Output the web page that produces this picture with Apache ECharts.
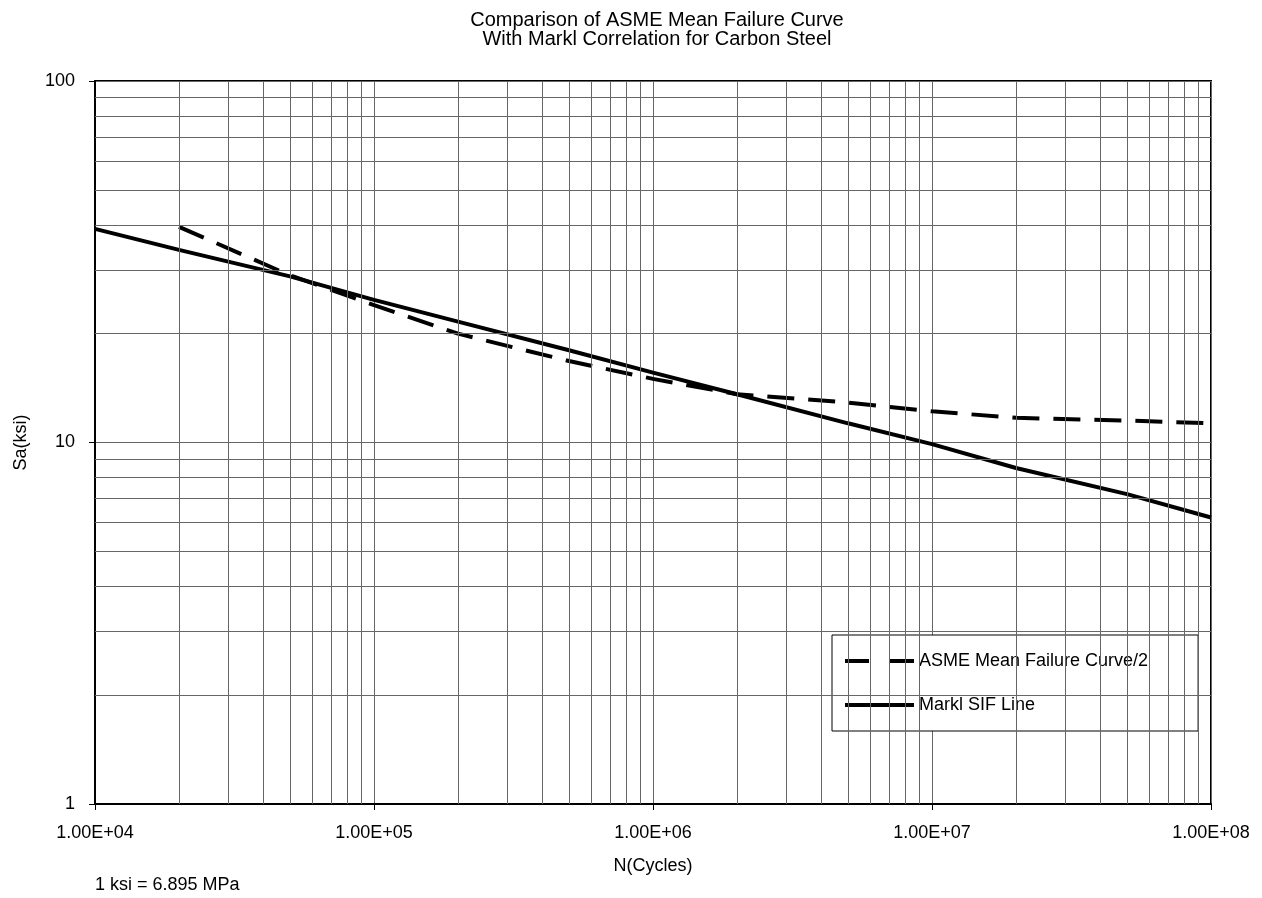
<!DOCTYPE html>
<html>
<head>
<meta charset="utf-8">
<script src="https://cdn.jsdelivr.net/npm/echarts@6/dist/echarts.min.js"></script>
<style>
  html, body { margin: 0; padding: 0; background: #fff; }
  #chart { width: 1262px; height: 898px; }
</style>
</head>
<body>
<div id="chart"></div>
<script>
// cycles (N) and stress amplitude Sa (ksi)
const marklCycles = [1e4, 2e4, 5e4, 1e5, 2e5, 5e5, 1e6, 2e6, 5e6, 1e7, 2e7, 5e7, 1e8];
const marklSa = [39.0, 34.1, 28.8, 24.8, 21.6, 18.0, 15.6, 13.6, 11.3, 9.9, 8.5, 7.2, 6.2];

const asmeCycles = [2e4, 5e4, 1e5, 2e5, 5e5, 1e6, 2e6, 5e6, 1e7, 2e7, 5e7, 1e8];
const asmeSa = [39.5, 29.0, 24.0, 20.0, 16.8, 15.0, 13.6, 12.9, 12.2, 11.7, 11.5, 11.3];

const xDecades = [1e4, 1e5, 1e6, 1e7];
const yDecades = [1, 10];
const minorSteps = [2, 3, 4, 5, 6, 7, 8, 9];

const FONT = '"Liberation Sans", Arial, Helvetica, sans-serif';
const DASH = [27, 14];

// minor grid lines for the log axes (2..9 inside each decade)
const minorLines = [];
xDecades.forEach(d => minorSteps.forEach(m => minorLines.push({ xAxis: d * m })));
yDecades.forEach(d => minorSteps.forEach(m => minorLines.push({ yAxis: d * m })));

const pairs = (xs, ys) => xs.map((x, i) => [x, ys[i]]);

const chart = echarts.init(document.getElementById('chart'));
chart.setOption({
  animation: false,
  backgroundColor: '#fff',
  textStyle: { fontFamily: FONT },
  title: {
    text: 'Comparison of ASME Mean Failure Curve\nWith Markl Correlation for Carbon Steel',
    left: 652,
    textAlign: 'center',
    top: 6,
    textStyle: { fontSize: 20, fontWeight: 'normal', color: '#000', lineHeight: 19, fontFamily: FONT }
  },
  grid: {
    left: 95, right: 51, top: 81, bottom: 94,
    show: true, borderColor: '#000', borderWidth: 2
  },
  legend: {
    data: [
      { name: 'ASME Mean Failure Curve/2', itemStyle: { opacity: 0 },
        lineStyle: { color: '#000', width: 4, type: [24, 21] } },
      { name: 'Markl SIF Line', itemStyle: { opacity: 0 },
        lineStyle: { color: '#000', width: 4, type: 'solid' } }
    ],
    orient: 'vertical',
    left: 832, top: 635,
    padding: [17, 50, 17, 11],
    itemGap: 26,
    itemWidth: 69, itemHeight: 14,
    backgroundColor: '#fff',
    borderColor: '#000', borderWidth: 1,
    textStyle: { fontSize: 18, color: '#000', padding: [0, 0, 0, 0], fontFamily: FONT }
  },
  xAxis: {
    type: 'log', logBase: 10, min: 1e4, max: 1e8,
    name: 'N(Cycles)', nameLocation: 'middle', nameGap: 53,
    nameTextStyle: { fontSize: 18, color: '#000', fontFamily: FONT },
    axisLine: { show: true, lineStyle: { color: '#000', width: 2 } },
    axisTick: { show: true, length: 6, lineStyle: { color: '#000' } },
    axisLabel: {
      fontSize: 18, color: '#000', margin: 20, fontFamily: FONT,
      formatter: v => '1.00E+' + String(Math.round(Math.log10(v))).padStart(2, '0')
    },
    splitLine: { show: true, lineStyle: { color: '#666', width: 1 } }
  },
  yAxis: {
    type: 'log', logBase: 10, min: 1, max: 100,
    name: 'Sa(ksi)', nameLocation: 'middle', nameGap: 65, nameRotate: 90,
    nameTextStyle: { fontSize: 18, color: '#000', fontFamily: FONT },
    axisLine: { show: true, lineStyle: { color: '#000', width: 2 } },
    axisTick: { show: true, length: 6, lineStyle: { color: '#000' } },
    axisLabel: { fontSize: 18, color: '#000', margin: 20, fontFamily: FONT },
    splitLine: { show: true, lineStyle: { color: '#666', width: 1 } }
  },
  graphic: [{
    type: 'text', left: 95, top: 876,
    style: { text: '1 ksi = 6.895 MPa', fontSize: 18, fill: '#000', fontFamily: FONT }
  }],
  series: [
    {
      name: 'grid-minor', type: 'line', data: [], z: 1, silent: true,
      markLine: {
        silent: true, symbol: 'none', label: { show: false },
        lineStyle: { color: '#666', width: 1, type: 'solid' },
        data: minorLines
      }
    },
    {
      name: 'ASME Mean Failure Curve/2', type: 'line', z: 3,
      data: pairs(asmeCycles, asmeSa),
      symbol: 'none', color: '#000',
      lineStyle: { color: '#000', width: 4, type: DASH }
    },
    {
      name: 'Markl SIF Line', type: 'line', z: 3,
      data: pairs(marklCycles, marklSa),
      symbol: 'none', color: '#000',
      lineStyle: { color: '#000', width: 4, type: 'solid' }
    }
  ]
});
</script>
</body>
</html>
